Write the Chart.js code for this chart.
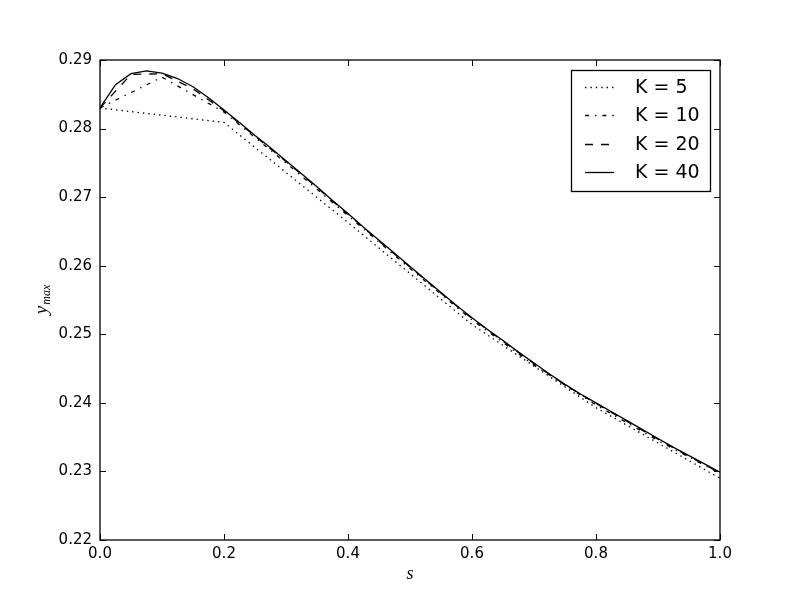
<!DOCTYPE html>
<html>
<head>
<meta charset="utf-8">
<script src="https://cdn.jsdelivr.net/npm/chart.js@4.4.0/dist/chart.umd.min.js"></script>
<style>
html, body { margin: 0; padding: 0; background: #fff; }
canvas { display: block; }
</style>
</head>
<body>
<canvas id="myChart" width="800" height="600"></canvas>
<script>
// valeurs
const sK5 = [0, 0.2, 0.4, 0.6, 0.8, 1.0];
const yK5 = [0.2830, 0.2809, 0.2663, 0.2514, 0.2393, 0.2290];

const sK10 = [0, 0.1, 0.2, 0.3, 0.4, 0.5, 0.6, 0.7, 0.8, 0.9, 1.0];
const yK10 = [0.2830, 0.2875, 0.2824, 0.2750, 0.2673, 0.2596, 0.2521, 0.2455, 0.2397, 0.2345, 0.2297];

const sK20 = [0, 0.05, 0.1, 0.15, 0.2, 0.25, 0.3, 0.35, 0.4, 0.45, 0.5,
              0.55, 0.6, 0.65, 0.7, 0.75, 0.8, 0.85, 0.9, 0.95, 1.0];
const yK20 = [0.2830, 0.2879, 0.2880, 0.2858, 0.2826, 0.2789, 0.2752, 0.2714, 0.2675, 0.2636, 0.2598,
              0.2560, 0.2523, 0.2490, 0.2457, 0.2426, 0.2399, 0.2373, 0.2347, 0.2322, 0.2298];

const sK40 = [0, 0.025, 0.05, 0.075, 0.1, 0.125, 0.15, 0.175, 0.2, 0.225, 0.25,
              0.275, 0.3, 0.325, 0.35, 0.375, 0.4, 0.425, 0.45, 0.475, 0.5,
              0.525, 0.55, 0.575, 0.6, 0.625, 0.65, 0.675, 0.7, 0.725, 0.75,
              0.775, 0.8, 0.825, 0.85, 0.875, 0.9, 0.925, 0.95, 0.975, 1.0];
const yK40 = [0.2830, 0.2864, 0.2880, 0.2884, 0.2881, 0.2873, 0.2861, 0.2845, 0.2827, 0.2809, 0.2790,
              0.2772, 0.2753, 0.2734, 0.2715, 0.2695, 0.2676, 0.2656, 0.2637, 0.2618, 0.2599,
              0.2580, 0.2561, 0.2542, 0.2524, 0.2507, 0.2491, 0.2474, 0.2458, 0.2442, 0.2427,
              0.2413, 0.2400, 0.2387, 0.2374, 0.2361, 0.2348, 0.2335, 0.2323, 0.2311, 0.2299];

const labels = ['K = 5', 'K = 10', 'K = 20', 'K = 40'];
const xTicks = [0, 0.2, 0.4, 0.6, 0.8, 1.0];
const yTicks = [0.22, 0.23, 0.24, 0.25, 0.26, 0.27, 0.28, 0.29];

function points(xs, ys) {
    let pts = [];
    for (let i = 0; i < xs.length; i++) {
        pts.push({x: xs[i], y: ys[i]});
    }
    return pts;
}

const dashes = [[1.4, 4], [4, 6, 1.4, 6], [8, 8], []];
const series = [[sK5, yK5], [sK10, yK10], [sK20, yK20], [sK40, yK40]];

let datasets = [];
for (let i = 0; i < series.length; i++) {
    datasets.push({
        label: labels[i],
        data: points(series[i][0], series[i][1]),
        borderColor: '#000',
        borderWidth: 1.3,
        borderDash: dashes[i],
        pointRadius: 0,
        tension: 0,
        fill: false
    });
}

// cadre, ticks vers l'intérieur, titres des axes et légende
const decor = {
    id: 'decor',
    afterDraw(chart) {
        const ctx = chart.ctx;
        const a = chart.chartArea;
        const xs = chart.scales.x, ys = chart.scales.y;
        ctx.save();
        ctx.strokeStyle = '#000';
        ctx.lineWidth = 1.3;
        ctx.setLineDash([]);
        ctx.strokeRect(a.left, a.top, a.right - a.left, a.bottom - a.top);

        const tl = 6;
        ctx.lineWidth = 1;
        ctx.beginPath();
        xTicks.forEach(v => {
            const px = Math.round(xs.getPixelForValue(v)) + 0.5;
            ctx.moveTo(px, a.bottom); ctx.lineTo(px, a.bottom - tl);
            ctx.moveTo(px, a.top); ctx.lineTo(px, a.top + tl);
        });
        yTicks.forEach(v => {
            const py = Math.round(ys.getPixelForValue(v)) + 0.5;
            ctx.moveTo(a.left, py); ctx.lineTo(a.left + tl, py);
            ctx.moveTo(a.right, py); ctx.lineTo(a.right - tl, py);
        });
        ctx.stroke();

        // titre x
        ctx.fillStyle = '#000';
        ctx.font = 'italic 18px "Liberation Serif"';
        ctx.textAlign = 'center';
        ctx.textBaseline = 'alphabetic';
        ctx.fillText('s', (a.left + a.right) / 2, 579);

        // titre y
        ctx.translate(47, (a.top + a.bottom) / 2);
        ctx.rotate(-Math.PI / 2);
        ctx.font = 'italic 19px "Liberation Serif"';
        const wy = ctx.measureText('y').width;
        ctx.font = 'italic 12px "Liberation Serif"';
        const wm = ctx.measureText('max').width;
        const x0 = -(wy + wm) / 2;
        ctx.textAlign = 'left';
        ctx.font = 'italic 19px "Liberation Serif"';
        ctx.fillText('y', x0, 0);
        ctx.font = 'italic 12px "Liberation Serif"';
        ctx.fillText('max', x0 + wy + 1, 3);
        ctx.setTransform(1, 0, 0, 1, 0, 0);

        // légende
        ctx.lineWidth = 1.3;
        ctx.fillStyle = '#fff';
        ctx.fillRect(571, 70, 139, 121);
        ctx.strokeRect(571.5, 70.5, 139, 121);
        ctx.font = '19px "DejaVu Sans"';
        ctx.textBaseline = 'middle';
        ctx.textAlign = 'left';
        chart.data.datasets.forEach((d, i) => {
            const y = Math.round(87 + i * 28.3) + 0.5;
            ctx.strokeStyle = '#000';
            ctx.lineWidth = d.borderWidth;
            ctx.setLineDash(d.borderDash);
            ctx.beginPath();
            ctx.moveTo(585, y);
            ctx.lineTo(614, y);
            ctx.stroke();
            ctx.setLineDash([]);
            ctx.fillStyle = '#000';
            ctx.fillText(d.label, 635, y + 1);
        });
        ctx.restore();
    }
};

new Chart(document.getElementById('myChart').getContext('2d'), {
    type: 'line',
    data: {datasets: datasets},
    options: {
        responsive: false,
        animation: false,
        devicePixelRatio: 1,
        layout: {padding: {left: 0, top: 60, right: 80, bottom: 0}},
        plugins: {legend: {display: false}, tooltip: {enabled: false}},
        scales: {
            x: {
                type: 'linear',
                min: 0,
                max: 1,
                afterFit: s => { s.height = 60; },
                afterBuildTicks: s => { s.ticks = xTicks.map(v => ({value: v})); },
                grid: {display: false, drawTicks: false},
                border: {display: false},
                ticks: {
                    color: '#000',
                    padding: 5,
                    maxRotation: 0,
                    font: {family: 'DejaVu Sans', size: 15},
                    callback: v => v.toFixed(1)
                }
            },
            y: {
                type: 'linear',
                min: 0.22,
                max: 0.29,
                afterFit: s => { s.width = 100; },
                afterBuildTicks: s => { s.ticks = yTicks.map(v => ({value: v})); },
                grid: {display: false, drawTicks: false},
                border: {display: false},
                ticks: {
                    color: '#000',
                    padding: 8,
                    font: {family: 'DejaVu Sans', size: 15},
                    callback: v => v.toFixed(2)
                }
            }
        }
    },
    plugins: [decor]
});
</script>
</body>
</html>
